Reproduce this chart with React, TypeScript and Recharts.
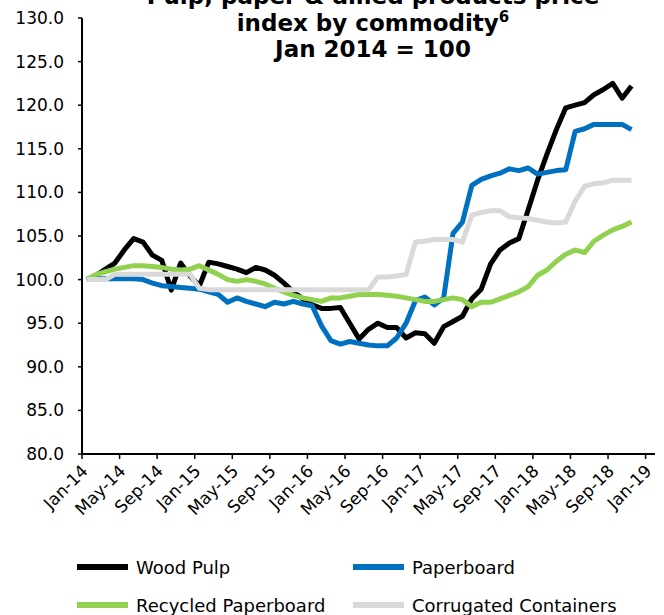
import { LineChart, Line, XAxis, YAxis, Legend } from "recharts";

const FONT = "'DejaVu Sans', Verdana, sans-serif";

// monthly index, Jan 2014 = 100
const months = [
  "Jan-14", "Feb-14", "Mar-14", "Apr-14", "May-14", "Jun-14", "Jul-14", "Aug-14", "Sep-14", "Oct-14", "Nov-14", "Dec-14",
  "Jan-15", "Feb-15", "Mar-15", "Apr-15", "May-15", "Jun-15", "Jul-15", "Aug-15", "Sep-15", "Oct-15", "Nov-15", "Dec-15",
  "Jan-16", "Feb-16", "Mar-16", "Apr-16", "May-16", "Jun-16", "Jul-16", "Aug-16", "Sep-16", "Oct-16", "Nov-16", "Dec-16",
  "Jan-17", "Feb-17", "Mar-17", "Apr-17", "May-17", "Jun-17", "Jul-17", "Aug-17", "Sep-17", "Oct-17", "Nov-17", "Dec-17",
  "Jan-18", "Feb-18", "Mar-18", "Apr-18", "May-18", "Jun-18", "Jul-18", "Aug-18", "Sep-18", "Oct-18", "Nov-18",
];

const woodPulp = [
  100.0, 100.5, 101.2, 101.9, 103.4, 104.7, 104.3, 102.8, 102.2, 98.8, 101.9, 100.4,
  99.3, 102.0, 101.8, 101.5, 101.2, 100.8, 101.4, 101.1, 100.5, 99.6, 98.6, 97.8,
  97.1, 96.7, 96.7, 96.8, 95.0, 93.2, 94.3, 95.0, 94.5, 94.5, 93.3, 93.9,
  93.8, 92.7, 94.6, 95.2, 95.8, 97.8, 98.9, 101.8, 103.4, 104.2, 104.7, 108.0,
  111.4, 114.4, 117.2, 119.7, 120.0, 120.3, 121.2, 121.8, 122.5, 120.8, 122.2,
];

const paperboard = [
  100.0, 100.1, 100.1, 100.1, 100.1, 100.1, 100.0, 99.6, 99.3, 99.2, 99.1, 99.0,
  98.9, 98.6, 98.3, 97.4, 97.9, 97.5, 97.2, 96.9, 97.4, 97.2, 97.5, 97.2,
  97.0, 94.7, 93.0, 92.6, 92.9, 92.7, 92.5, 92.4, 92.4, 93.3, 95.0, 97.6,
  98.0, 97.1, 97.9, 105.3, 106.6, 110.8, 111.5, 111.9, 112.2, 112.7, 112.5, 112.8,
  112.1, 112.3, 112.5, 112.6, 117.0, 117.3, 117.8, 117.8, 117.8, 117.8, 117.2,
];

const recycledPaperboard = [
  100.0, 100.6, 100.9, 101.2, 101.4, 101.6, 101.6, 101.5, 101.4, 101.2, 101.1, 101.2,
  101.6, 101.1, 100.6, 100.0, 99.8, 100.0, 99.8, 99.5, 99.0, 98.6, 98.2, 97.9,
  97.7, 97.5, 97.9, 97.9, 98.1, 98.3, 98.3, 98.3, 98.2, 98.1, 97.9, 97.7,
  97.5, 97.5, 97.7, 97.9, 97.7, 96.9, 97.4, 97.4, 97.8, 98.2, 98.6, 99.2,
  100.5, 101.1, 102.1, 102.9, 103.4, 103.1, 104.4, 105.1, 105.7, 106.1, 106.6,
];

const corrugatedContainers = [
  100.0, 100.0, 100.0, 100.6, 100.6, 100.6, 100.6, 100.6, 100.6, 100.6, 100.6, 100.6,
  99.0, 98.85, 98.85, 98.85, 98.85, 98.85, 98.85, 98.85, 98.85, 98.85, 98.85, 98.85,
  98.85, 98.85, 98.85, 98.85, 98.85, 98.85, 98.85, 100.3, 100.3, 100.4, 100.6, 104.3,
  104.4, 104.6, 104.6, 104.6, 104.3, 107.4, 107.7, 107.9, 107.9, 107.2, 107.1, 107.0,
  106.8, 106.6, 106.5, 106.6, 109.0, 110.7, 111.0, 111.1, 111.4, 111.4, 111.4,
];

const xTickLabels = [
  "Jan-14", "May-14", "Sep-14", "Jan-15", "May-15", "Sep-15", "Jan-16", "May-16",
  "Sep-16", "Jan-17", "May-17", "Sep-17", "Jan-18", "May-18", "Sep-18", "Jan-19",
];
const yTicks = [80, 85, 90, 95, 100, 105, 110, 115, 120, 125, 130];

const series = [
  { key: "woodPulp", name: "Wood Pulp", color: "#000000" },
  { key: "paperboard", name: "Paperboard", color: "#0070C0" },
  { key: "recycled", name: "Recycled Paperboard", color: "#92D050" },
  { key: "corrugated", name: "Corrugated Containers", color: "#D9D9D9" },
];

// points sit mid-month on a month-index axis
const data = months.map((m, i) => ({
  month: m,
  x: i + 0.5,
  woodPulp: woodPulp[i],
  paperboard: paperboard[i],
  recycled: recycledPaperboard[i],
  corrugated: corrugatedContainers[i],
}));

const xTicks = xTickLabels.map((_, i) => i * 4);

function XTick(props: any) {
  const { x, y, payload } = props;
  const label = xTickLabels[Math.round(payload.value / 4)];
  const ax = x + 7;
  const ay = y + 13;
  return (
    <text
      x={ax}
      y={ay}
      transform={`rotate(-45, ${ax}, ${ay})`}
      textAnchor="end"
      fontSize={17}
      fontFamily={FONT}
      fill="#000"
    >
      {label}
    </text>
  );
}

function LegendBox() {
  return (
    <div
      style={{
        display: "grid",
        gridTemplateColumns: "276px 276px",
        fontFamily: FONT,
        fontSize: 18,
        color: "#000",
      }}
    >
      {series.map((s) => (
        <div key={s.key} style={{ display: "flex", alignItems: "center", height: 38 }}>
          <span style={{ display: "inline-block", width: 51, height: 6, background: s.color, marginRight: 8 }} />
          <span>{s.name}</span>
        </div>
      ))}
    </div>
  );
}

export default function App() {
  return (
    <div style={{ position: "absolute", left: 0, top: 0, background: "#fff" }}>
      <LineChart
        width={664}
        height={615}
        data={data}
        margin={{ top: 18, right: 9, left: 0, bottom: 101 }}
      >
        <text x={373} y={4} textAnchor="middle" fontFamily={FONT} fontWeight="bold" fontSize={23} fill="#000">
          Pulp, paper &amp; allied products price
        </text>
        <text x={373} y={31} textAnchor="middle" fontFamily={FONT} fontWeight="bold" fontSize={23} fill="#000">
          index by commodity
          <tspan dy={-9} fontSize={15}>6</tspan>
        </text>
        <text x={373} y={57} textAnchor="middle" fontFamily={FONT} fontWeight="bold" fontSize={23} fill="#000">
          Jan 2014 = 100
        </text>
        <XAxis
          dataKey="x"
          type="number"
          domain={[0, 61]}
          ticks={xTicks}
          interval={0}
          height={60}
          tick={<XTick />}
          tickSize={5}
          tickMargin={0}
          axisLine={{ stroke: "#000", strokeWidth: 2 }}
          tickLine={{ stroke: "#000", strokeWidth: 1.5 }}
        />
        <YAxis
          domain={[80, 130]}
          ticks={yTicks}
          interval={0}
          width={82}
          tickSize={4}
          tickMargin={14}
          tickFormatter={(v: number) => v.toFixed(1)}
          tick={{ fill: "#000", fontSize: 17, fontFamily: FONT }}
          axisLine={{ stroke: "#000", strokeWidth: 2 }}
          tickLine={{ stroke: "#000", strokeWidth: 1.5 }}
        />
        {series.map((s) => (
          <Line
            key={s.key}
            dataKey={s.key}
            name={s.name}
            stroke={s.color}
            strokeWidth={5}
            strokeLinejoin="round"
            dot={false}
            activeDot={false}
            isAnimationActive={false}
          />
        ))}
        <Legend
          layout="horizontal"
          verticalAlign="middle"
          align="center"
          content={<LegendBox />}
          wrapperStyle={{ left: 77, top: 548, width: 580 }}
        />
      </LineChart>
    </div>
  );
}
